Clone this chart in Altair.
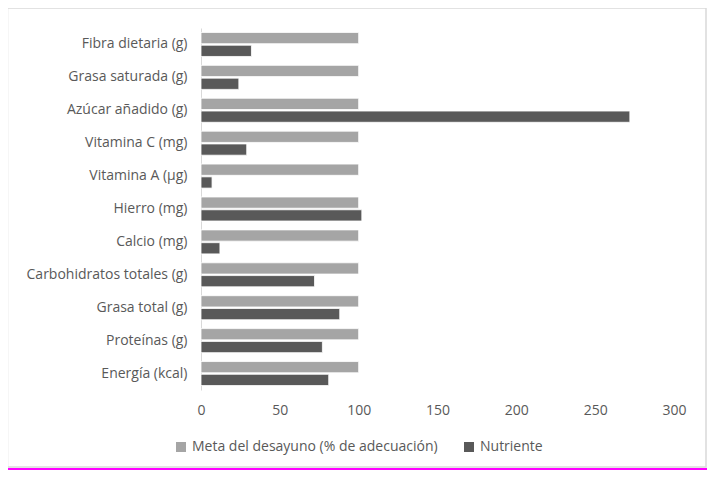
import altair as alt
import pandas as pd

categories = [
    "Fibra dietaria (g)",
    "Grasa saturada (g)",
    "Azúcar añadido (g)",
    "Vitamina C (mg)",
    "Vitamina A (µg)",
    "Hierro (mg)",
    "Calcio (mg)",
    "Carbohidratos totales (g)",
    "Grasa total (g)",
    "Proteínas (g)",
    "Energía (kcal)",
]
meta = [100, 100, 100, 100, 100, 100, 100, 100, 100, 100, 100]
nutriente = [32, 24, 272, 29, 7, 102, 12, 72, 88, 77, 81]
series = ["Meta del desayuno (% de adecuación)", "Nutriente"]
colors = ["#A5A5A5", "#595959"]
x_ticks = [0, 50, 100, 150, 200, 250, 300]

rows = []
for c, m, n in zip(categories, meta, nutriente):
    rows.append({"cat": c, "serie": series[0], "valor": m})
    rows.append({"cat": c, "serie": series[1], "valor": n})
df = pd.DataFrame(rows)

FONT = "Open Sans"
TXT = "#595959"
FS = 14

bars = alt.Chart(df).mark_bar(stroke="white", strokeWidth=0.8).encode(
    x=alt.X("valor:Q",
            scale=alt.Scale(domain=[0, 300], nice=False),
            axis=alt.Axis(values=x_ticks, title=None, grid=False, domain=False,
                          ticks=False, labelFlush=False, labelFont=FONT,
                          labelFontSize=FS, labelColor=TXT, labelPadding=13)),
    y=alt.Y("cat:N", sort=categories,
            scale=alt.Scale(paddingInner=0.27, paddingOuter=0.135),
            axis=alt.Axis(title=None, ticks=False, domain=True, domainColor="#D9D9D9",
                          labelFont=FONT, labelFontSize=FS, labelColor=TXT,
                          labelPadding=14, labelLimit=300)),
    yOffset=alt.YOffset("serie:N", sort=series,
                        scale=alt.Scale(paddingInner=0.12)),
    color=alt.Color("serie:N", sort=series,
                    scale=alt.Scale(domain=series, range=colors),
                    legend=alt.Legend(title=None, orient="none", direction="horizontal",
                                      legendX=-27, legendY=412,
                                      labelFont=FONT, labelFontSize=FS, labelColor=TXT,
                                      labelLimit=400, labelOffset=4,
                                      symbolType="square", symbolSize=100,
                                      symbolStrokeWidth=0, columnPadding=24)),
)

frame = alt.Chart(pd.DataFrame({"a": [0]})).mark_rect(
    fill=None, stroke="#D9D9D9", strokeWidth=1.5
).encode(
    x=alt.value(-193.5), x2=alt.value(505), y=alt.value(-20), y2=alt.value(439)
)
pink = alt.Chart(pd.DataFrame({"a": [0]})).mark_rule(
    color="#FF00FF", strokeWidth=2
).encode(
    x=alt.value(-194), x2=alt.value(506), y=alt.value(441)
)

chart = alt.layer(frame, bars, pink).properties(
    width=473, height=362,
    padding={"left": 193, "top": 20, "right": 35, "bottom": 80},
    autosize=alt.AutoSizeParams(type="none"),
    background="white",
).configure_view(strokeWidth=0)

chart.save("out.html", embed_options={"renderer": "svg", "actions": False})
